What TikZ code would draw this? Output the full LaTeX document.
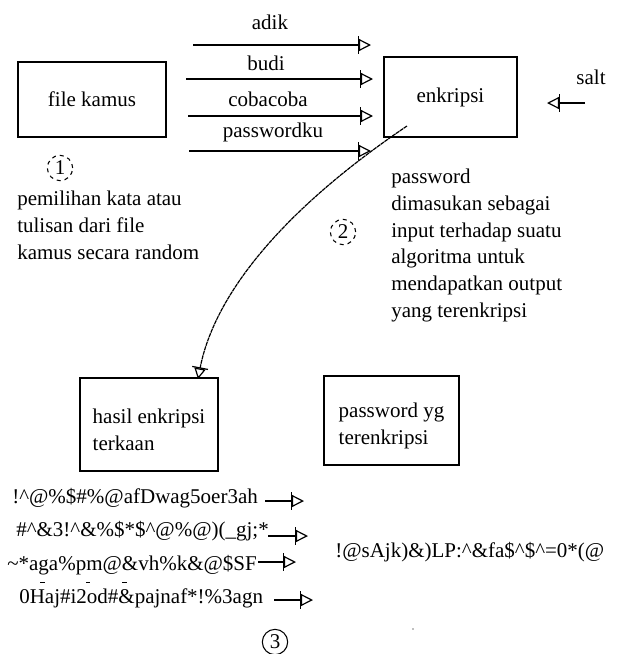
\documentclass[tikz,border=0pt]{standalone}
\usepackage{fontspec}
\setmainfont{Liberation Serif}
\usetikzlibrary{arrows.meta}
% extra height on a first line, to sit a text block lower inside its box
\newcommand\tpad{\rule{0pt}{19pt}}
\begin{document}
\begin{tikzpicture}[x=0.75pt,y=-0.75pt,
  font=\fontsize{15.75}{20}\selectfont,
  box/.style={draw,line width=1pt,inner sep=0pt},
  flow/.style={line width=1pt,
    -{Bar[width=13pt,line width=0.9pt]Triangle[open,length=9pt,width=9pt,line width=0.9pt]}},
  guess/.style={line width=0.9pt,dash pattern=on 3pt off 0.5pt,
    -{Bar[width=12pt,line width=0.9pt]Triangle[open,length=8pt,width=8.5pt,line width=0.9pt]}},
  stepnum/.style={circle,draw,line width=0.8pt,inner sep=0pt,minimum size=19pt},
  plain/.style={inner sep=0pt},
  para/.style={inner sep=0pt,anchor=north west,align=left}]
\useasboundingbox (0,0) rectangle (626,654);

% boxes
\node[box,minimum width=111pt,minimum height=56.25pt] (kamus) at (92,99.5) {file kamus};
\node[box,minimum width=99.75pt,minimum height=60pt] (enc) at (450.5,97) {enkripsi};
\node[box,minimum width=103.5pt,minimum height=69.75pt,align=left] (hasil) at (149,424.5)
  {\tpad hasil enkripsi\\terkaan};
\node[box,minimum width=101.25pt,minimum height=66.75pt,align=left] (pwenc) at (391.5,420.5)
  {\tpad password yg\\terenkripsi};

% candidate words going into the encryption
\coordinate (w1s) at (193,45);  \coordinate (w1e) at (371,45);
\coordinate (w2s) at (186,79);  \coordinate (w2e) at (373,79);
\coordinate (w3s) at (188,116); \coordinate (w3e) at (373,116);
\coordinate (w4s) at (189,151); \coordinate (w4e) at (371,151);
\draw[flow] (w1s) -- (w1e);
\draw[flow] (w2s) -- (w2e);
\draw[flow] (w3s) -- (w3e);
\draw[flow] (w4s) -- (w4e);
\node[plain,anchor=base] (lw1) at (270,29) {adik};
\node[plain,anchor=base] (lw2) at (266,70) {budi};
\node[plain,anchor=base] (lw3) at (268,106) {cobacoba};
\node[plain,anchor=base] (lw4) at (273,137) {passwordku};

% salt
\node[plain,anchor=base] (salt) at (591,84) {salt};
\coordinate (salts) at (585,103); \coordinate (salte) at (547,103);
\draw[flow] (salts) -- (salte);

% encrypted result
\coordinate (encout) at (407,126);
\coordinate (hasilin) at (198,379);
\draw[guess] (encout) .. controls (290,205) and (215,290) .. (hasilin);

% step notes
\node[stepnum,dashed] (c1) at (60,168) {1};
\node[para] (t1) at (17,191) {pemilihan kata atau\\tulisan dari file\\kamus secara random};
\node[stepnum,dashed] (c2) at (343,232) {2};
\node[para] (t2) at (391,169) {password\\dimasukan sebagai\\input terhadap suatu\\algoritma untuk\\mendapatkan output\\yang terenkripsi};

% guessed hashes
\node[plain,anchor=base west] (h1) at (12,503) {!\textasciicircum @\%\$\#\%@afDwag5oer3ah};
\node[plain,anchor=base west] (h2) at (16,536) {\#\textasciicircum\&3!\textasciicircum\&\%\$*\$\textasciicircum @\%@)(\_gj;*};
\node[plain,anchor=base west] (h3) at (7,570) {\textasciitilde*aga\%pm@\&vh\%k\&@\$SF};
\node[plain,anchor=base west] (h4) at (19,603) {0Haj\#i2od\#\&pajnaf*!\%3agn};
\coordinate (a1s) at (265,501); \coordinate (a1e) at (304,501);
\coordinate (a2s) at (268,536); \coordinate (a2e) at (308,536);
\coordinate (a3s) at (258,562); \coordinate (a3e) at (296,562);
\coordinate (a4s) at (274,600); \coordinate (a4e) at (313,600);
\draw[flow] (a1s) -- (a1e);
\draw[flow] (a2s) -- (a2e);
\draw[flow] (a3s) -- (a3e);
\draw[flow] (a4s) -- (a4e);
\draw[line width=0.6pt] (40,582) -- (45,582) (86,582) -- (90,582) (122,582) -- (127,582);

% stored hash
\node[plain,anchor=base west] (target) at (335,557) {!@sAjk)\&)LP:\textasciicircum\&fa\$\textasciicircum\$\textasciicircum=0*(@};
\fill[gray] (413,629) circle (0.7pt);

\node[stepnum] (c3) at (275,642) {3};
\end{tikzpicture}
\end{document}
